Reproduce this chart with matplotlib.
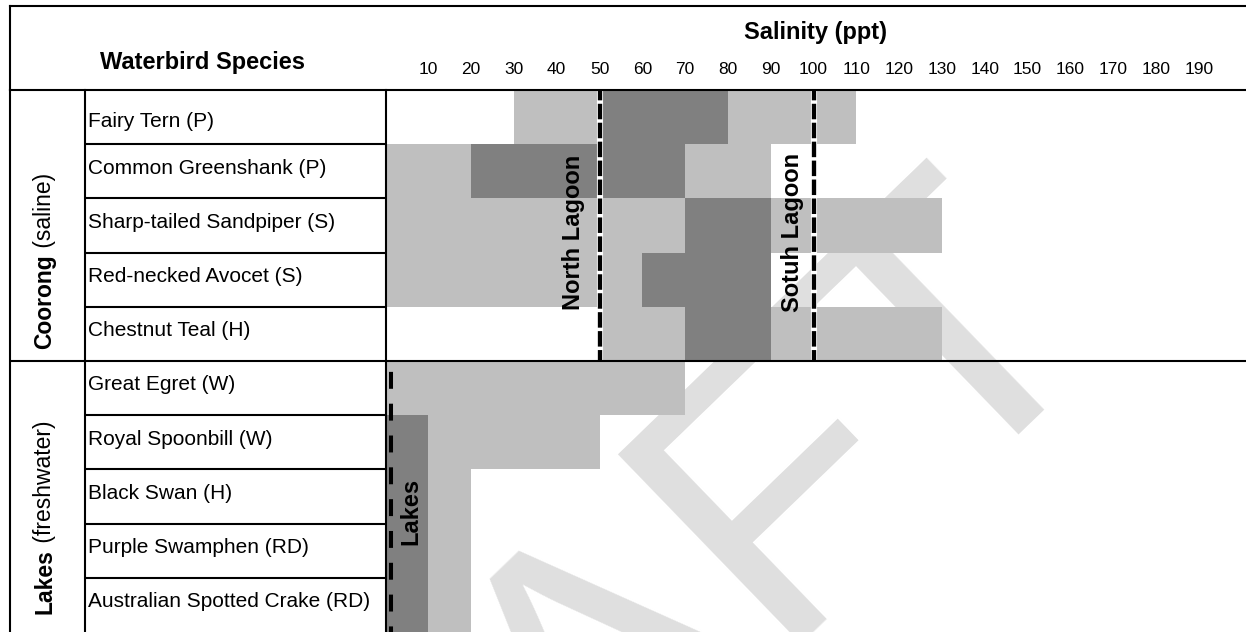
import matplotlib
matplotlib.use("Agg")
import matplotlib.pyplot as plt

plt.rcParams['font.family'] = ['Liberation Sans', 'DejaVu Sans']

# ---------------- data ----------------
species = [
    "Fairy Tern (P)", "Common Greenshank (P)", "Sharp-tailed Sandpiper (S)",
    "Red-necked Avocet (S)", "Chestnut Teal (H)", "Great Egret (W)",
    "Royal Spoonbill (W)", "Black Swan (H)", "Purple Swamphen (RD)",
    "Australian Spotted Crake (RD)",
]
# salinity ranges (ppt) tolerated (light grey) and preferred (dark grey)
light_ranges = [
    [(30, 50), (80, 110)],
    [(0, 20), (70, 90)],
    [(0, 70), (90, 130)],
    [(0, 60)],
    [(50, 70), (90, 130)],
    [(0, 70)],
    [(10, 50)],
    [(10, 20)],
    [(10, 20)],
    [(10, 20)],
]
dark_ranges = [
    [(50, 80)],
    [(20, 70)],
    [(70, 90)],
    [(60, 90)],
    [(70, 90)],
    [],
    [(0, 10)],
    [(0, 10)],
    [(0, 10)],
    [(0, 10)],
]
salinity_ticks = [10, 20, 30, 40, 50, 60, 70, 80, 90, 100, 110, 120, 130,
                  140, 150, 160, 170, 180, 190]
group_bold = ["Coorong", "Lakes"]
group_rest = [" (saline)", " (freshwater)"]
zone_labels = ["North Lagoon", "Sotuh Lagoon"]
zone_salinity = [50, 100]
lakes_salinity = 1.3

LIGHT = "#bfbfbf"
DARK = "#808080"

W, H = 1246, 632
fig = plt.figure(figsize=(W / 100, H / 100), dpi=100)
fig.patch.set_facecolor("white")

# chart axes (pixel layout)
left_px, top_px = 385.5, 90
ax = fig.add_axes([left_px / W, 0, (W - left_px) / W, (H - top_px) / H])
ax.set_xlim(0, 201)
ax.set_ylim(len(species), 0)
ax.axis("off")
ax.patch.set_visible(False)

def fx(px):
    """figure pixel x -> chart axes fraction"""
    return (px - left_px) / (W - left_px)

def fy(py):
    """figure pixel y (from top) -> chart axes fraction"""
    return 1 - (py - top_px) / (H - top_px)

# bars
for i in range(len(species)):
    if light_ranges[i]:
        ax.broken_barh([(a, b - a) for a, b in light_ranges[i]], (i, 1),
                       facecolors=LIGHT, edgecolor="none", zorder=1)
    if dark_ranges[i]:
        ax.broken_barh([(a, b - a) for a, b in dark_ranges[i]], (i, 1),
                       facecolors=DARK, edgecolor="none", zorder=2)

# zone dashed lines
for lab, s in zip(zone_labels, zone_salinity):
    ax.plot([s, s], [0, 5], color="white", lw=4.4, solid_capstyle="butt", zorder=3)
    ax.plot([s, s], [0, 5], color="black", lw=3.1, linestyle=(1.2, (3.6, 0.8)),
            dash_capstyle="butt", zorder=4)
ax.plot([lakes_salinity, lakes_salinity], [5, 10], color="black", lw=2.9,
        linestyle=(5.2, (4.2, 3.7)), dash_capstyle="butt", zorder=4)

# zone labels
yt = ax.get_xaxis_transform()
ax.text(44, 2.62, zone_labels[0], rotation=90, ha="center", va="center",
        fontsize=17, fontweight="bold", zorder=5)
ax.text(95.1, 2.62, zone_labels[1], rotation=90, ha="center", va="center",
        fontsize=17, fontweight="bold", zorder=5)
ax.text(5.9, 7.77, "Lakes", rotation=90, ha="center", va="center",
        fontsize=17, fontweight="bold", zorder=5)

# table lines
tr = ax.get_yaxis_transform()
lw = 1.5
for i in range(1, len(species)):
    x0 = fx(10) if i == 5 else fx(85)
    x1 = 1.0 if i == 5 else 0.0
    ax.plot([x0, x1], [i, i], transform=tr, color="black", lw=lw,
            clip_on=False, zorder=6, solid_capstyle="butt")
for xp in (10, 85, 385.5):
    ax.plot([fx(xp), fx(xp)], [0, len(species)], transform=tr, color="black",
            lw=lw, clip_on=False, zorder=6)
# header lines
ax.plot([fx(10), 1], [fy(90), fy(90)], transform=ax.transAxes, color="black",
        lw=lw, clip_on=False, zorder=6)
ax.plot([fx(10), 1], [fy(6), fy(6)], transform=ax.transAxes, color="black",
        lw=lw, clip_on=False, zorder=6)
ax.plot([fx(10), fx(10)], [fy(6), fy(90)], transform=ax.transAxes,
        color="black", lw=lw, clip_on=False, zorder=6)

# species labels
for i, name in enumerate(species):
    yoff = 0.58 if i == 0 else 0.44
    ax.text(fx(88), i + yoff, name, transform=tr, ha="left", va="center",
            fontsize=15, clip_on=False)

# group labels (bold part + regular part, rotated)
group_split = [254, 549]
for gb, gr, sp in zip(group_bold, group_rest, group_split):
    ax.text(fx(45), fy(sp), gb, transform=ax.transAxes, rotation=90,
            rotation_mode="anchor", ha="right", va="center", fontsize=16.5,
            fontweight="bold", clip_on=False)
    ax.text(fx(45), fy(sp), gr, transform=ax.transAxes, rotation=90,
            rotation_mode="anchor", ha="left", va="center", fontsize=16.5,
            clip_on=False)

# header texts
ax.text(fx(203), fy(63), "Waterbird Species", transform=ax.transAxes,
        ha="center", va="center", fontsize=17, fontweight="bold", clip_on=False)
ax.text(fx(816), fy(32), "Salinity (ppt)", transform=ax.transAxes,
        ha="center", va="center", fontsize=17, fontweight="bold", clip_on=False)
for t in salinity_ticks:
    ax.text(t, fy(70), str(t), transform=yt, ha="center", va="center",
            fontsize=12.5, clip_on=False)

# watermark
fig.text(648 / W, 1 - 762 / H, "DRAFT", fontsize=276, rotation=44,
         rotation_mode="anchor", ha="center", va="baseline",
         color="#dfdfdf", zorder=-1)

fig.savefig("out.png", dpi=100, facecolor="white")
